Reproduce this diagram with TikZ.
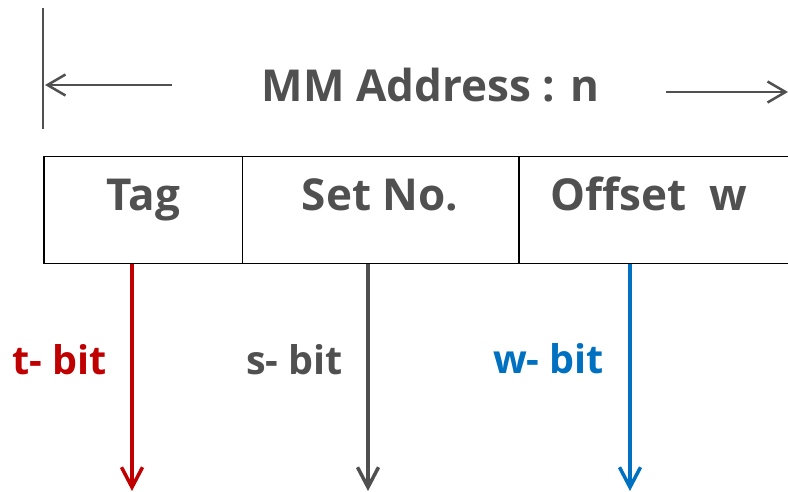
\documentclass[tikz,border=0pt]{standalone}
\usepackage{fontspec}
\setmainfont{Open Sans}
\usetikzlibrary{arrows.meta}
\definecolor{ink}{HTML}{505050}
\definecolor{tred}{HTML}{C00000}
\definecolor{wblue}{HTML}{0070C0}
\tikzset{
  cell/.style={draw=black, line width=1.5pt, minimum height=107pt, inner sep=0pt, anchor=north west},
  bigtext/.style={text=ink, font=\fontsize{44}{48}\selectfont\bfseries, anchor=base, inner sep=0pt},
  dimline/.style={draw=ink, line width=2.5pt, -{Straight Barb[length=18pt,width=21pt,line width=2.5pt]}},
  bitarrow/.style={line width=3.5pt, -{Straight Barb[length=20pt,width=21pt,line width=3.5pt]}},
  bitlabel/.style={font=\fontsize{39.5}{42}\selectfont\bfseries, anchor=base, inner sep=0pt},
}
\begin{document}
\begin{tikzpicture}[x=1pt, y=-1pt]
  \useasboundingbox (0,0) rectangle (788,492);
  % address field
  \node[cell, minimum width=198.4pt] (tag) at (43.3,155.7) {};
  \node[cell, minimum width=276.3pt] (set) at (241.7,155.7) {};
  \node[cell, minimum width=280pt] (off) at (518,155.7) {};
  \node[bigtext] (tagt) at (143.5,210.5) {Tag};
  \node[bigtext] (sett) at (380,210.5) {Set No.};
  \node[bigtext] (offt) at (648.5,210.5) {Offset\ \ w};
  % overall width
  \coordinate (vtop) at (43.3,8);
  \coordinate (vbot) at (43.3,129);
  \draw[ink, line width=2pt] (vtop) -- (vbot);
  \node[bigtext] (mm) at (430.5,101.5) {MM Address : n};
  \coordinate (la) at (172,85);
  \coordinate (lb) at (45,85);
  \coordinate (ra) at (666,92);
  \coordinate (rb) at (788,92);
  \draw[dimline] (la) -- (lb);
  \draw[dimline] (ra) -- (rb);
  % bit widths
  \coordinate (te) at (132,491);
  \coordinate (se) at (368,491);
  \coordinate (we) at (630,491);
  \draw[bitarrow, tred] (tag.south west -| te) -- (te);
  \draw[bitarrow, ink] (set.south west -| se) -- (se);
  \draw[bitarrow, wblue] (off.south west -| we) -- (we);
  \node[bitlabel, text=tred] (tl) at (59.5,374) {t- bit};
  \node[bitlabel, text=ink] (sl) at (294.5,374) {s- bit};
  \node[bitlabel, text=wblue] (wl) at (548.5,373) {w- bit};
\end{tikzpicture}
\end{document}
